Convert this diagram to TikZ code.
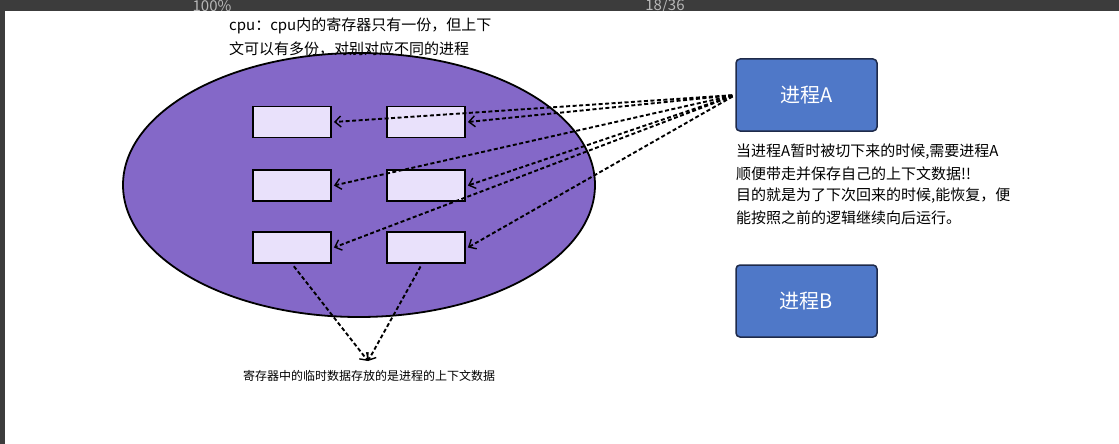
\documentclass[tikz,border=0pt]{standalone}
\usepackage{fontspec}
\setmainfont{Noto Sans CJK SC}
\usetikzlibrary{arrows.meta,shapes.geometric}
\definecolor{ellfill}{HTML}{8468C8}
\definecolor{regfill}{HTML}{E9E1FB}
\definecolor{procfill}{HTML}{4F78C8}
\definecolor{procline}{HTML}{1E2A4A}
\definecolor{barcol}{HTML}{3C3C3C}
\definecolor{bartext}{HTML}{B8B8B8}
\begin{document}
\begin{tikzpicture}[x=1pt,y=-1pt,
  reg/.style={draw=black,line width=1.8pt,fill=regfill,minimum width=78pt,minimum height=31pt,inner sep=0pt},
  proc/.style={draw=procline,line width=1.5pt,fill=procfill,rounded corners=4pt,minimum width=141pt,minimum height=72pt,text=white,font=\fontsize{20}{24}\selectfont},
  darr/.style={dash pattern=on 4pt off 2.5pt,line width=1.9pt,shorten <=3pt,-{Straight Barb[length=6pt,width=11pt,line width=1.4pt]}},
  note/.style={anchor=west,inner sep=0pt,font=\fontsize{15}{18}\selectfont},
  small/.style={inner sep=0pt,font=\fontsize{12}{14}\selectfont}]
\useasboundingbox (0,0) rectangle (1119,444);
\fill[white] (0,0) rectangle (1119,444);
% viewer chrome
\fill[barcol] (0,0) rectangle (1119,11);
\fill[barcol] (0,0) rectangle (5,444);
\begin{scope}
  \clip (0,0) rectangle (1119,11);
  \node[text=bartext,font=\fontsize{15}{18}\selectfont,inner sep=0pt] (zoomlbl) at (212,6) {100\%};
  \node[text=bartext,font=\fontsize{15}{18}\selectfont,inner sep=0pt] (pagelbl) at (665,6) {18/36};
\end{scope}
% cpu
\node[draw=black,line width=1.8pt,fill=ellfill,ellipse,minimum width=472pt,minimum height=264pt,inner sep=0pt] (cpu) at (359,185) {};
\node[note] (t1) at (229,26) {cpu：cpu内的寄存器只有一份，但上下};
\node[note] (t2) at (229,49) {文可以有多份，对别对应不同的进程};
% registers
\node[reg] (r11) at (292,122) {};
\node[reg] (r12) at (426,122) {};
\node[reg] (r21) at (292,185.5) {};
\node[reg] (r22) at (426,185.5) {};
\node[reg] (r31) at (292,247.5) {};
\node[reg] (r32) at (426,247.5) {};
% processes
\node[proc] (pa) at (806.5,95) {进程A};
\node[proc] (pb) at (806.5,301) {进程B};
\node[note] (n1) at (736,152) {当进程A暂时被切下来的时候,需要进程A};
\node[note] (n2) at (736,174) {顺便带走并保存自己的上下文数据!!};
\node[note] (n3) at (736,196) {目的就是为了下次回来的时候,能恢复，便};
\node[note] (n4) at (736,218) {能按照之前的逻辑继续向后运行。};
% arrows from process A
\foreach \r in {r11,r12,r21,r22,r31,r32}
  \draw[darr] (pa.west) -- ([xshift=2pt]\r.east);
% bottom
\node[small] (cap) at (369,376) {寄存器中的临时数据存放的是进程的上下文数据};
\coordinate (meet) at (368,361);
\draw[darr] (r31.south) -- (meet);
\draw[darr] ([xshift=-4pt]r32.south) -- (meet);
\end{tikzpicture}
\end{document}
